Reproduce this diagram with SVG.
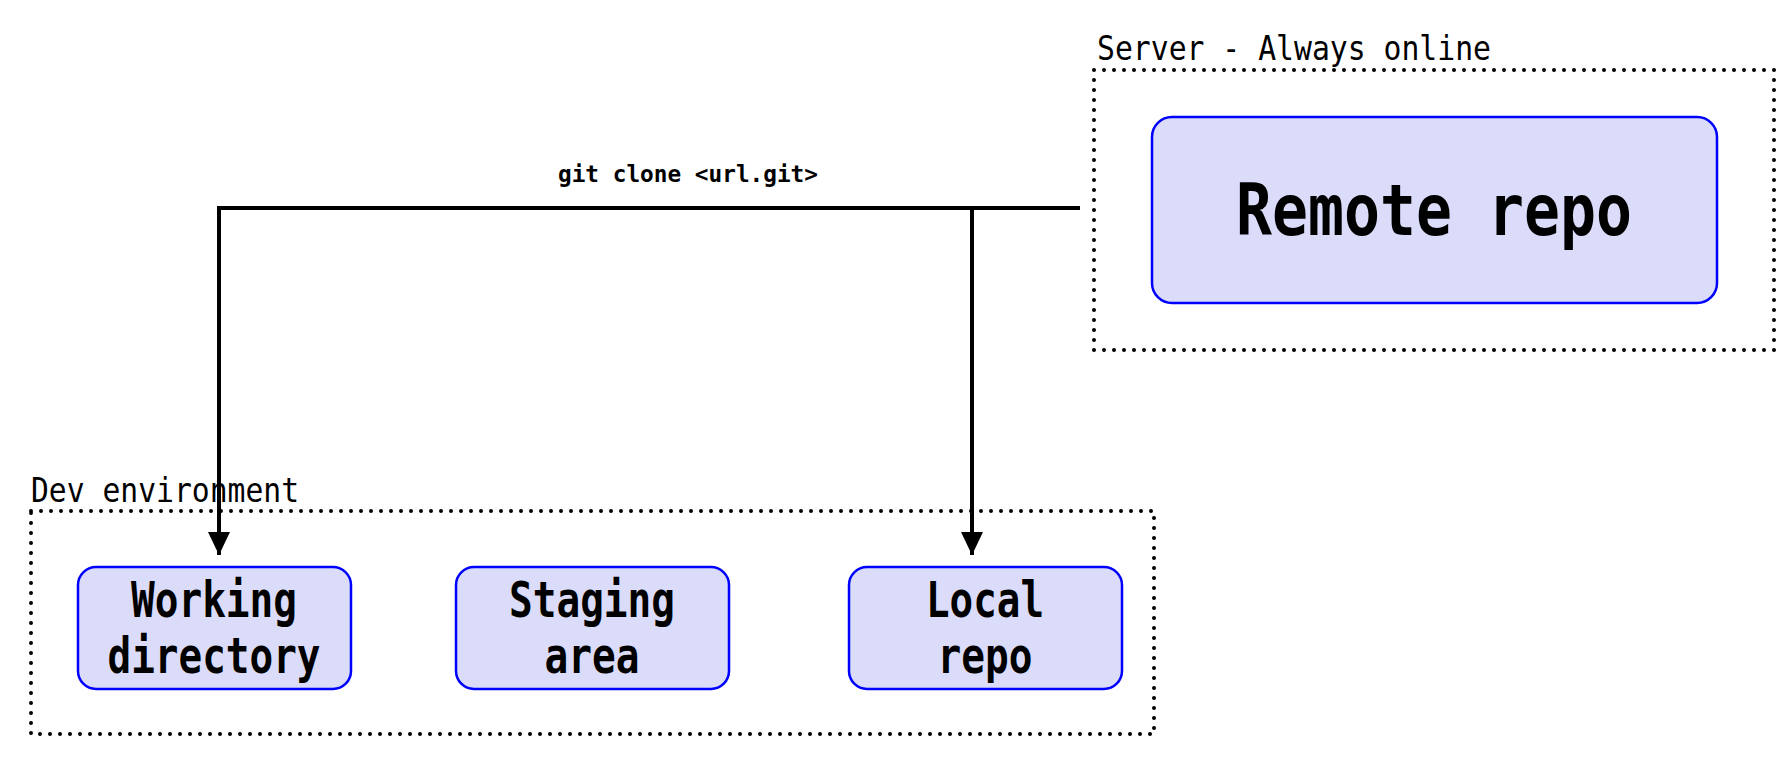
<svg xmlns="http://www.w3.org/2000/svg" width="1792" height="772" viewBox="0 0 1792 772">
<defs>
<style>
.grp{fill:none;stroke:#000;stroke-width:4;stroke-dasharray:0 10;stroke-linecap:round}
.glabel{font-family:"DejaVu Sans Mono","Liberation Mono",monospace;font-size:34px;fill:#000;font-weight:300}
.node rect{fill:#dadcfa;stroke:#0000ff;stroke-width:2.5}
.ntext{font-family:"DejaVu Sans Mono","Liberation Mono",monospace;font-weight:bold;font-size:50px;fill:#000;text-anchor:middle}
.big{font-size:72px}
.edge{fill:none;stroke:#000;stroke-width:4}
.elabel{font-family:"DejaVu Sans Mono","Liberation Mono",monospace;font-weight:bold;font-size:23px;fill:#000;text-anchor:middle}
</style>
<marker id="arr" viewBox="0 0 23 22" refX="23" refY="11" markerWidth="23" markerHeight="22" markerUnits="userSpaceOnUse" orient="auto">
<path d="M0,0 L23,11 L0,22 Z" fill="#000"/>
</marker>
</defs>
<rect width="1792" height="772" fill="#fff"/>

<g id="server">
<rect class="grp" x="1094" y="70" width="680" height="280"/>
<text class="glabel" x="1097" y="60" textLength="394" lengthAdjust="spacingAndGlyphs">Server - Always online</text>
</g>
<g id="dev">
<rect class="grp" x="31" y="511" width="1123" height="223"/>
<text class="glabel" x="31" y="502" textLength="268" lengthAdjust="spacingAndGlyphs">Dev environment</text>
</g>

<g id="remote" class="node">
<rect x="1152" y="117" width="565" height="186" rx="20"/>
<text class="ntext big" x="1434" y="235" textLength="396" lengthAdjust="spacingAndGlyphs">Remote repo</text>
</g>
<g id="working" class="node">
<rect x="78" y="567" width="273" height="122" rx="18"/>
<text class="ntext" x="214" y="617" textLength="166" lengthAdjust="spacingAndGlyphs">Working</text>
<text class="ntext" x="214" y="673" textLength="213" lengthAdjust="spacingAndGlyphs">directory</text>
</g>
<g id="staging" class="node">
<rect x="456" y="567" width="273" height="122" rx="18"/>
<text class="ntext" x="592" y="617" textLength="166" lengthAdjust="spacingAndGlyphs">Staging</text>
<text class="ntext" x="592" y="673" textLength="95" lengthAdjust="spacingAndGlyphs">area</text>
</g>
<g id="local" class="node">
<rect x="849" y="567" width="273" height="122" rx="18"/>
<text class="ntext" x="985" y="617" textLength="118" lengthAdjust="spacingAndGlyphs">Local</text>
<text class="ntext" x="985" y="673" textLength="95" lengthAdjust="spacingAndGlyphs">repo</text>
</g>

<g id="connectors">
<path class="edge" d="M1080,208 L217,208"/>
<path class="edge" d="M219,208 L219,555" marker-end="url(#arr)"/>
<path class="edge" d="M972,208 L972,555" marker-end="url(#arr)"/>
<text class="elabel" x="688" y="182" textLength="260" lengthAdjust="spacingAndGlyphs">git clone &lt;url.git&gt;</text>
</g>
</svg>
